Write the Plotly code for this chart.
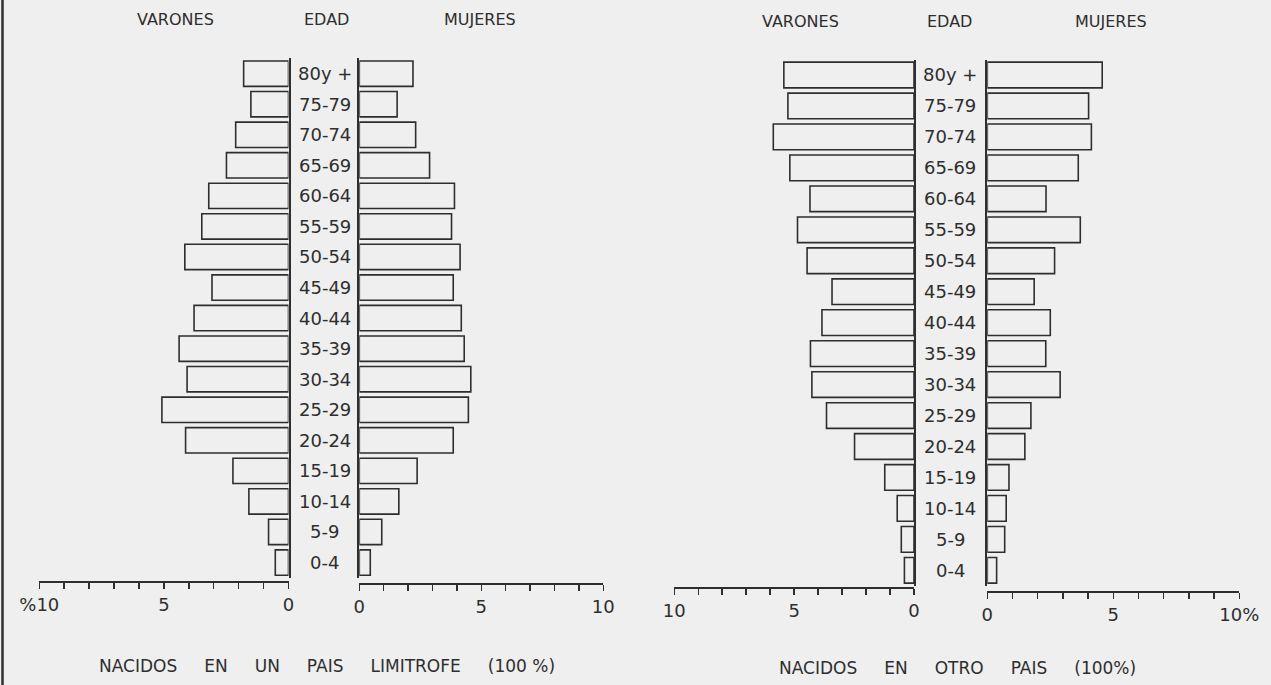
import plotly.graph_objects as go

# ---------------- data ----------------
ages = ["80y +", "75-79", "70-74", "65-69", "60-64", "55-59", "50-54", "45-49",
        "40-44", "35-39", "30-34", "25-29", "20-24", "15-19", "10-14", "5-9", "0-4"]

# Nacidos en un pais limitrofe (%)
lim_varones = [1.80, 1.51, 2.12, 2.49, 3.20, 3.48, 4.16, 3.07, 3.79,
               4.39, 4.07, 5.08, 4.13, 2.23, 1.59, 0.80, 0.53]
lim_mujeres = [2.20, 1.55, 2.31, 2.88, 3.90, 3.78, 4.13, 3.85, 4.18,
               4.30, 4.57, 4.47, 3.85, 2.37, 1.62, 0.92, 0.45]

# Nacidos en otro pais (%)
otro_varones = [5.43, 5.26, 5.87, 5.18, 4.34, 4.86, 4.46, 3.42, 3.84,
                4.32, 4.26, 3.65, 2.48, 1.22, 0.70, 0.53, 0.40]
otro_mujeres = [4.56, 4.02, 4.13, 3.61, 2.33, 3.69, 2.67, 1.86, 2.50,
                2.32, 2.89, 1.73, 1.49, 0.86, 0.75, 0.69, 0.37]

tick_vals = [0, 1, 2, 3, 4, 5, 6, 7, 8, 9, 10]
ticks_left_m = ["0", "", "", "", "", "5", "", "", "", "", "%10"]
ticks_left_f = ["0", "", "", "", "", "5", "", "", "", "", "10"]
ticks_right_m = ["0", "", "", "", "", "5", "", "", "", "", "10"]
ticks_right_f = ["0", "", "", "", "", "5", "", "", "", "", "10%"]

header_labels = ["VARONES", "EDAD", "MUJERES"]
title_left = "NACIDOS EN UN PAIS LIMITROFE (100 %)"
title_right = "NACIDOS EN OTRO PAIS (100%)"

# ---------------- style ----------------
W, H = 1271, 685
BG = "#efefef"
INK = "#2e2e2e"
FONT = "DejaVu Sans"


def px(x):
    return x / W


def py(y):
    return 1 - y / H


fig = go.Figure()


def add_bars(vals, xa, ya):
    fig.add_trace(go.Bar(
        x=vals, y=list(range(len(ages))), orientation="h",
        xaxis=xa, yaxis=ya, width=0.83,
        marker=dict(color="rgba(0,0,0,0)", line=dict(color=INK, width=1.6)),
        showlegend=False, hoverinfo="skip"))


add_bars(lim_varones, "x", "y")
add_bars(lim_mujeres, "x2", "y2")
add_bars(otro_varones, "x3", "y3")
add_bars(otro_mujeres, "x4", "y4")

n = len(ages)
yrange = [n - 0.5, -0.5]


def xaxis(domain, rng, pos, ticktext):
    return dict(domain=domain, range=rng, anchor="free", position=pos,
                automargin=False,
                showgrid=False, zeroline=False, showline=True, linecolor=INK,
                linewidth=2, ticks="outside", ticklen=6, tickwidth=1.5,
                tickcolor=INK, tickmode="array", tickvals=tick_vals,
                ticktext=ticktext, tickangle=0,
                tickfont=dict(family=FONT, size=18, color=INK), fixedrange=True)


def yaxis(domain, anchor, side):
    return dict(domain=domain, range=yrange, anchor=anchor, side=side,
                automargin=False,
                showgrid=False, zeroline=False, showline=True, linecolor=INK,
                linewidth=2, showticklabels=False, ticks="", fixedrange=True)


dom_left = [py(577.8), py(58.4)]
dom_right = [py(585.8), py(59.5)]

fig.update_layout(
    width=W, height=H, margin=dict(l=0, r=0, t=0, b=0, autoexpand=False),
    paper_bgcolor=BG, plot_bgcolor=BG, barmode="overlay",
    xaxis=xaxis([px(39.3), px(288.5)], [10, 0], py(582.3), ticks_left_m),
    xaxis2=xaxis([px(359.3), px(603.3)], [0, 10], py(584.0), ticks_left_f),
    xaxis3=xaxis([px(674.3), px(914.0)], [10, 0], py(588.3), ticks_right_m),
    xaxis4=xaxis([px(987.3), px(1239.3)], [0, 10], py(592.3), ticks_right_f),
    yaxis=yaxis(dom_left, "x", "right"),
    yaxis2=yaxis(dom_left, "x2", "left"),
    yaxis3=yaxis(dom_right, "x3", "right"),
    yaxis4=yaxis(dom_right, "x4", "left"),
)

ann = []
# age labels
for i, a in enumerate(ages):
    ann.append(dict(x=px(324.5), y=i, xref="paper", yref="y", text=a,
                    showarrow=False, xanchor="center", yanchor="middle",
                    font=dict(family=FONT, size=18, color=INK)))
    ann.append(dict(x=px(950), y=i, xref="paper", yref="y3", text=a,
                    showarrow=False, xanchor="center", yanchor="middle",
                    font=dict(family=FONT, size=18, color=INK)))

# headers
for txt, xc in zip(header_labels, [175, 326, 480]):
    ann.append(dict(x=px(xc), y=py(19.5), xref="paper", yref="paper", text=txt,
                    showarrow=False, xanchor="center", yanchor="middle",
                    font=dict(family=FONT, size=16, color=INK)))
for txt, xc in zip(header_labels, [800, 949, 1111]):
    ann.append(dict(x=px(xc), y=py(21.5), xref="paper", yref="paper", text=txt,
                    showarrow=False, xanchor="center", yanchor="middle",
                    font=dict(family=FONT, size=16, color=INK)))

NB = "\u00a0" * 5
ann.append(dict(x=px(327), y=py(666), xref="paper", yref="paper",
                text=title_left.replace(" ", NB).replace("100" + NB + "%", "100\u00a0%"),
                showarrow=False, xanchor="center", yanchor="middle",
                font=dict(family=FONT, size=17, color=INK)))
ann.append(dict(x=px(957), y=py(668), xref="paper", yref="paper",
                text=title_right.replace(" ", NB),
                showarrow=False, xanchor="center", yanchor="middle",
                font=dict(family=FONT, size=17, color=INK)))

fig.update_layout(annotations=ann)

# page border at the left edge
fig.add_shape(type="line", xref="paper", yref="paper", x0=px(2.5), x1=px(2.5),
              y0=0, y1=1, line=dict(color=INK, width=2.5))

fig.write_html(
    "out.html",
    config={"displayModeBar": False, "staticPlot": True},
    post_script="document.body.style.margin='0';document.body.style.overflow='hidden';document.body.style.background='%s';" % BG,
)
